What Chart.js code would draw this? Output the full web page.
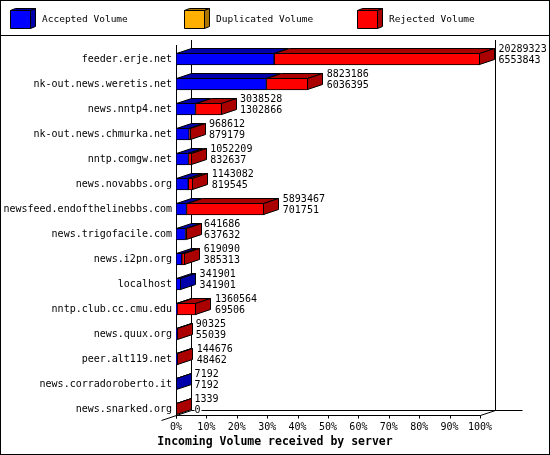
<!DOCTYPE html>
<html>
<head>
<meta charset="utf-8">
<script src="https://cdn.jsdelivr.net/npm/chart.js@4.4.1/dist/chart.umd.min.js"></script>
<style>
  html, body { margin: 0; padding: 0; background: #fff; }
  canvas { display: block; }
</style>
</head>
<body>
<canvas id="volumeChart" width="550" height="455"></canvas>
<script>
// incoming volume per feeding server, numbers as printed next to each bar
const servers = [
    'feeder.erje.net', 'nk-out.news.weretis.net', 'news.nntp4.net', 'nk-out.news.chmurka.net',
    'nntp.comgw.net', 'news.novabbs.org', 'newsfeed.endofthelinebbs.com', 'news.trigofacile.com',
    'news.i2pn.org', 'localhost', 'nntp.club.cc.cmu.edu', 'news.quux.org',
    'peer.alt119.net', 'news.corradoroberto.it', 'news.snarked.org'
];
// upper number: total offered, lower number: accepted
const offered  = [20289323, 8823186, 3038528, 968612, 1052209, 1143082, 5893467, 641686,
                  619090, 341901, 1360564, 90325, 144676, 7192, 1339];
const accepted = [6553843, 6036395, 1302866, 879179, 832637, 819545, 701751, 637632,
                  385313, 341901, 69506, 55039, 48462, 7192, 0];
const duplicated = [0, 0, 0, 0, 0, 0, 0, 0, 0, 0, 0, 0, 0, 0, 0];
const rejected = [13735480, 2786791, 1735662, 89433, 219572, 323537, 5191716, 4054,
                  233777, 0, 1291058, 35286, 96214, 0, 1339];
const pctTicks = [0, 10, 20, 30, 40, 50, 60, 70, 80, 90, 100];
const axisTitle = 'Incoming Volume received by server';

const xMax = Math.max(...offered);
const MONO = '"DejaVu Sans Mono", monospace';
const DX = 15, DY = 5;   // depth of the 3d effect

function poly(ctx, pts, fill) {
    ctx.beginPath();
    ctx.moveTo(pts[0][0], pts[0][1]);
    for (let k = 1; k < pts.length; k++) ctx.lineTo(pts[k][0], pts[k][1]);
    ctx.closePath();
    ctx.fillStyle = fill;
    ctx.fill();
    ctx.strokeStyle = '#000';
    ctx.lineWidth = 1;
    ctx.stroke();
}

function line(ctx, x1, y1, x2, y2) {
    ctx.beginPath();
    ctx.moveTo(x1, y1);
    ctx.lineTo(x2, y2);
    ctx.stroke();
}

const threeD = {
    id: 'threeD',
    beforeDraw(chart) {
        const ctx = chart.ctx;
        ctx.save();
        ctx.fillStyle = '#fff';
        ctx.fillRect(0, 0, chart.width, chart.height);
        ctx.strokeStyle = '#000';
        ctx.lineWidth = 1;
        ctx.strokeRect(0.5, 0.5, chart.width - 1, chart.height - 1);
        line(ctx, 0, 35.5, chart.width, 35.5);

        // legend with little 3d boxes
        ctx.font = '9.5px ' + MONO;
        ctx.textBaseline = 'middle';
        ctx.textAlign = 'left';
        chart.data.datasets.forEach((ds, d) => {
            const bx = 10.5 + Math.round(d * 173.7), by = 10.5, bw = 20, bh = 18;
            poly(ctx, [[bx, by], [bx + bw, by], [bx + bw + 5, by - 2], [bx + 5, by - 2]], ds.darkColor);
            poly(ctx, [[bx + bw, by], [bx + bw + 5, by - 2], [bx + bw + 5, by + bh - 2], [bx + bw, by + bh]], ds.darkColor);
            poly(ctx, [[bx, by], [bx + bw, by], [bx + bw, by + bh], [bx, by + bh]], ds.backgroundColor);
            ctx.fillStyle = '#000';
            ctx.fillText(ds.label, bx + 31.5, 20);
        });
        ctx.restore();
    },
    beforeDatasetsDraw(chart) {
        const { ctx, chartArea: a, scales: { x } } = chart;
        const left = Math.round(a.left) + 0.5, right = Math.round(a.right) + 0.5;
        const fTop = a.top - 1.5, fBot = a.bottom - 6;
        ctx.save();
        ctx.strokeStyle = '#000';
        ctx.lineWidth = 1;
        // back wall
        line(ctx, left + DX, fTop - DY, left + DX, fBot - DY);
        line(ctx, right + DX, fTop - DY, right + DX, fBot - DY);
        line(ctx, left + DX, fBot - DY, right + DX + 27, fBot - DY);
        // floor edges
        line(ctx, left - DX, fBot + DY, left + DX, fBot - DY);
        line(ctx, right, fBot, right + DX, fBot - DY);
        // front axes
        line(ctx, left, fTop, left, fBot + 3);
        line(ctx, left, fBot, right, fBot);
        x.ticks.forEach(t => {
            const px = Math.round(x.getPixelForValue(t.value)) + 0.5;
            line(ctx, px, fBot, px, fBot + 3);
        });
        ctx.restore();
    },
    afterDatasetsDraw(chart) {
        const { ctx, scales: { x } } = chart;
        ctx.save();
        for (let i = 0; i < servers.length; i++) {
            let last = null;
            let center = 0;
            chart.data.datasets.forEach((ds, d) => {
                const bar = chart.getDatasetMeta(d).data[i];
                const p = bar.getProps(['x', 'y', 'base', 'height'], true);
                center = p.y;
                if (!ds.data[i]) return;
                const t = p.y - p.height / 2 + 0.5, b = p.y + p.height / 2 - 0.5;
                const xa = Math.round(p.base) + 0.5;
                const xb = Math.max(xa, Math.round(p.x) - 0.5);
                poly(ctx, [[xa, t], [xb, t], [xb + DX, t - DY], [xa + DX, t - DY]], ds.darkColor);
                last = { xb, t, b, color: ds.darkColor };
            });
            if (last) {
                const { xb, t, b, color } = last;
                poly(ctx, [[xb, t], [xb + DX, t - DY], [xb + DX, b - DY], [xb, b]], color);
            }
            // value labels: offered above, accepted below
            const lx = x.getPixelForValue(offered[i]) + DX + 3.5;
            ctx.font = '10px ' + MONO;
            ctx.textAlign = 'left';
            ctx.textBaseline = 'middle';
            [[String(offered[i]), center - 9.5], [String(accepted[i]), center + 1.5]].forEach(([txt, ty]) => {
                const w = ctx.measureText(txt).width;
                ctx.fillStyle = '#fff';
                ctx.fillRect(lx, ty - 4.5, w + 1, 9);
                ctx.fillStyle = '#000';
                ctx.fillText(txt, lx, ty);
            });
        }
        ctx.restore();
    },
    afterDraw(chart) {
        const { ctx, chartArea: a } = chart;
        ctx.save();
        ctx.font = 'bold 11.5px ' + MONO;
        ctx.fillStyle = '#000';
        ctx.textAlign = 'center';
        ctx.textBaseline = 'middle';
        ctx.fillText(axisTitle, chart.width / 2, a.bottom + 20.5);
        ctx.restore();
    }
};

const tickFont = { family: MONO, size: 10 };

new Chart(document.getElementById('volumeChart'), {
    type: 'bar',
    data: {
        labels: servers,
        datasets: [
            { label: 'Accepted Volume', data: accepted, backgroundColor: '#0000ff', darkColor: '#0000aa' },
            { label: 'Duplicated Volume', data: duplicated, backgroundColor: '#ffb000', darkColor: '#aa7500' },
            { label: 'Rejected Volume', data: rejected, backgroundColor: '#ff0000', darkColor: '#aa0000' }
        ]
    },
    options: {
        indexAxis: 'y',
        responsive: false,
        animation: false,
        events: [],
        layout: { padding: { top: 46.5, right: 70, bottom: 19.5, left: 0 } },
        datasets: {
            bar: { barThickness: 12, borderColor: '#000', borderWidth: 1, borderSkipped: false }
        },
        plugins: {
            legend: { display: false },
            title: { display: false },
            tooltip: { enabled: false }
        },
        scales: {
            x: {
                stacked: true,
                min: 0,
                max: xMax,
                grid: { display: false, drawTicks: false },
                border: { display: false },
                afterBuildTicks: s => { s.ticks = pctTicks.map(p => ({ value: p / 100 * xMax })); },
                afterFit: s => { s.height = 14; },
                ticks: {
                    padding: 0,
                    autoSkip: false,
                    maxRotation: 0,
                    color: '#000',
                    font: tickFont,
                    callback: v => Math.round(v / xMax * 100) + '%'
                }
            },
            y: {
                stacked: true,
                grid: { display: false, drawTicks: false },
                border: { display: false },
                afterFit: s => { s.width = 176; },
                ticks: { padding: 4, autoSkip: false, color: '#000', font: tickFont }
            }
        }
    },
    plugins: [threeD]
});
</script>
</body>
</html>
